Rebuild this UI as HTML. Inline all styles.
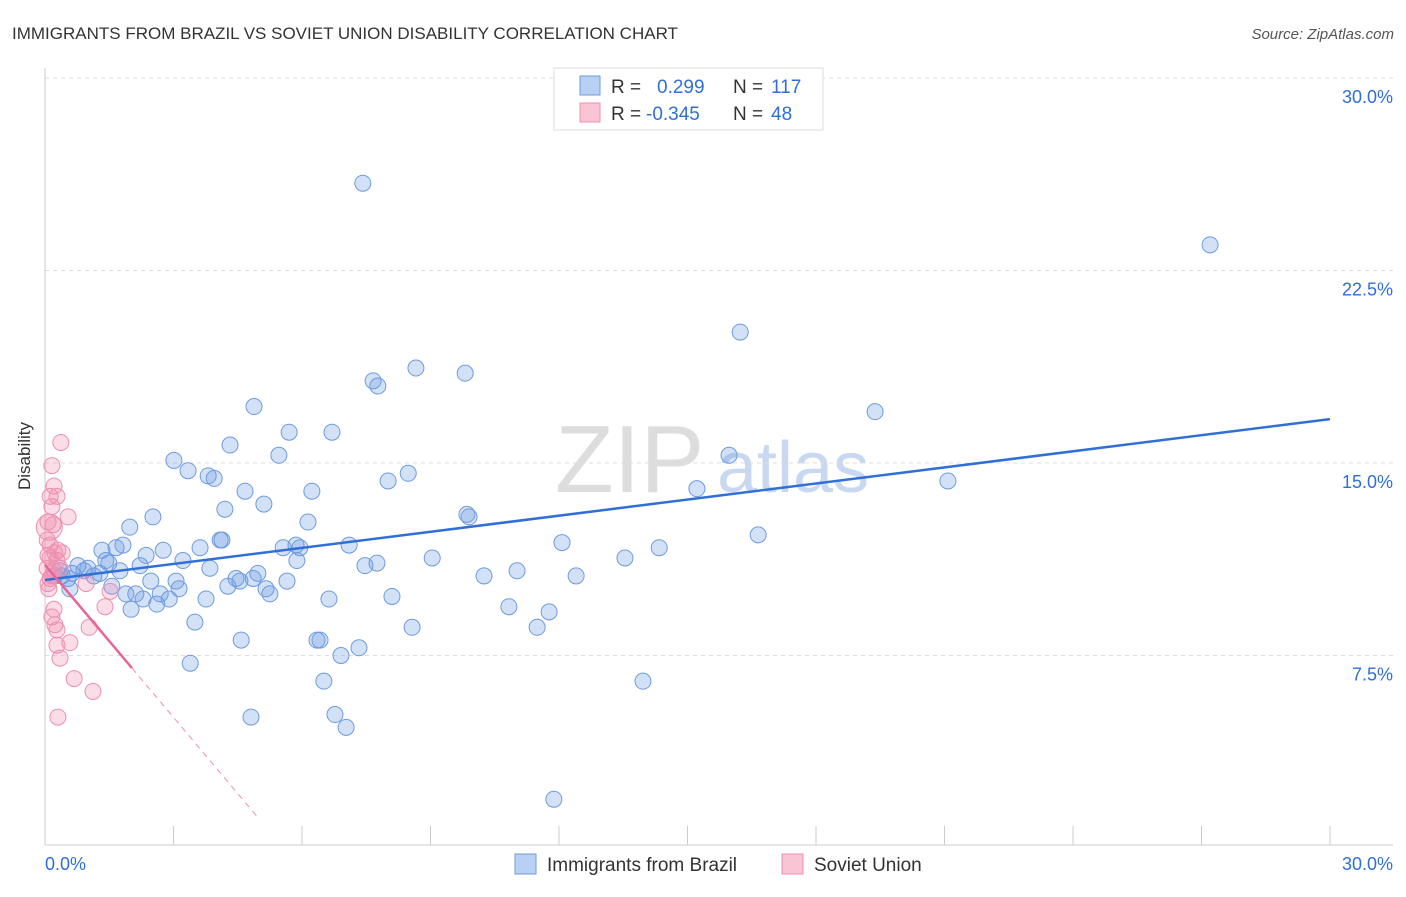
<!DOCTYPE html>
<html><head><meta charset="utf-8"><style>
body{margin:0;background:#fff;font-family:"Liberation Sans",sans-serif;}
svg text{font-family:"Liberation Sans",sans-serif;}
</style></head><body>
<svg id="chart" width="1406" height="892">
<text x="12" y="39" font-size="17" fill="#333">IMMIGRANTS FROM BRAZIL VS SOVIET UNION DISABILITY CORRELATION CHART</text>
<text x="1394" y="39" font-size="15" fill="#555" text-anchor="end" font-style="italic">Source: ZipAtlas.com</text>
<text x="30" y="456" font-size="17" fill="#333" text-anchor="middle" transform="rotate(-90 30 456)">Disability</text>
<text x="555" y="492" font-size="96" fill="#ddd" font-family="Liberation Serif">ZIP</text>
<text x="717" y="492" font-size="72" fill="#c8d8f0">atlas</text>
<g id="grid"></g><g id="axes"></g><g id="pts"></g><g id="lines"></g>
<g>
<rect x="554" y="68" width="269" height="62" fill="#fff" stroke="#ddd"/>
<rect x="580" y="76" width="20" height="19" fill="#b8d0f4" stroke="#6e9be0"/>
<rect x="580" y="103" width="20" height="19" fill="#f9c4d4" stroke="#ef8fb0"/>
<text x="611" y="93" font-size="19" fill="#333">R = </text><text x="657" y="93" font-size="19" fill="#2f6fd6">0.299</text>
<text x="733" y="93" font-size="19" fill="#333">N = </text><text x="771" y="93" font-size="19" fill="#2f6fd6">117</text>
<text x="611" y="120" font-size="19" fill="#333">R = </text><text x="646" y="120" font-size="19" fill="#2f6fd6">-0.345</text>
<text x="733" y="120" font-size="19" fill="#333">N = </text><text x="771" y="120" font-size="19" fill="#2f6fd6">48</text>
</g>
<g>
<rect x="515" y="854" width="21" height="20" fill="#b8d0f4" stroke="#6e9be0"/>
<text x="547" y="871" font-size="19" fill="#333">Immigrants from Brazil</text>
<rect x="782" y="854" width="21" height="20" fill="#f9c4d4" stroke="#ef8fb0"/>
<text x="814" y="871" font-size="19" fill="#333">Soviet Union</text>
</g>
</svg>
<script>
const yTicks=[7.5,15,22.5,30];
const xTickCount=10;
const blueX=[7.42,27.2,16.23,8.66,9.81,7.66,7.77,4.88,19.38,5.70,6.70,4.32,5.46,3.01,15.97,3.34,3.81,3.95,8.48,8.01,21.08,6.23,15.22,4.67,5.11,4.20,9.85,9.90,6.14,2.52,1.98,16.65,12.07,4.09,4.13,1.82,3.62,1.33,2.76,1.66,7.10,5.56,5.86,5.95,14.34,9.04,13.54,2.36,3.22,1.42,5.88,1.49,7.47,7.75,2.22,0.77,1.00,0.91,1.28,0.40,0.54,1.75,4.97,11.02,4.46,3.06,2.47,3.85,10.25,12.40,5.65,4.55,4.86,4.27,1.56,0.58,3.13,5.16,5.25,8.10,2.12,2.69,2.90,2.29,3.76,6.63,1.89,2.61,2.01,10.83,11.77,3.50,8.57,11.49,6.35,6.42,4.58,7.33,6.91,3.39,13.96,6.51,4.81,6.77,7.03,11.88,0.63,0.23,1.14,0.35];
const blueY=[25.9,23.5,20.1,18.7,18.5,18.2,18.0,17.2,17.0,16.2,16.2,15.7,15.3,15.1,15.3,14.7,14.5,14.4,14.6,14.3,14.3,13.9,14.0,13.9,13.4,13.2,13.0,12.9,12.7,12.9,12.5,12.2,11.9,12.0,12.0,11.8,11.7,11.6,11.6,11.7,11.8,11.7,11.8,11.7,11.7,11.3,11.3,11.4,11.2,11.2,11.2,11.1,11.0,11.1,11.0,11.0,10.9,10.8,10.7,10.6,10.5,10.8,10.7,10.8,10.5,10.4,10.4,10.9,10.6,10.6,10.4,10.4,10.5,10.2,10.2,10.1,10.1,10.1,9.9,9.8,9.9,9.9,9.7,9.7,9.7,9.7,9.9,9.5,9.3,9.4,9.2,8.8,8.6,8.6,8.1,8.1,8.1,7.8,7.5,7.2,6.5,6.5,5.1,5.2,4.7,1.9,10.7,10.6,10.6,10.8];
const pinkX=[0.37,0.16,0.21,0.28,0.12,0.16,0.54,0.07,0.19,0.05,0.12,0.30,0.23,0.40,0.07,0.12,0.28,0.05,0.35,0.21,0.16,0.12,0.07,0.96,1.52,0.09,1.40,0.21,0.16,0.23,0.28,1.03,0.58,0.28,0.35,0.68,1.12,0.30];
const pinkY=[15.8,14.9,14.1,13.7,13.7,13.3,12.9,12.7,12.6,12.0,11.8,11.6,11.5,11.5,11.4,11.3,11.2,10.9,10.9,10.8,10.6,10.5,10.3,10.3,10.0,10.1,9.4,9.3,9.0,8.7,8.5,8.6,8.0,7.9,7.4,6.6,6.1,5.1];
const blueTrend=[10.44,16.71];
const pinkTrend=[11.03,-1.98];
const X=v=>45+v/30*1285, Y=v=>848-v/7.5*192.5;
const NS='http://www.w3.org/2000/svg';
function mk(t,a,p){const e=document.createElementNS(NS,t);for(const k in a)e.setAttribute(k,a[k]);document.getElementById(p).appendChild(e);return e;}
yTicks.forEach(t=>{
 const g=mk('line',{x1:45,x2:1393,y1:Y(t),y2:Y(t),stroke:'#ddd','stroke-dasharray':'4,4'},'grid');
 
 
 const l=mk('text',{x:1393,y:Y(t)+25,'font-size':18,fill:'#2f6fd6','text-anchor':'end'},'axes');
 l.textContent=t.toFixed(1)+'%';
 
 
});
const ax=mk('line',{x1:45,x2:1393,y1:845,y2:845,stroke:'#ccc'},'axes');


const ay=mk('line',{x1:45,x2:45,y1:68,y2:845,stroke:'#ccc'},'axes');


for(let i=0;i<=xTickCount;i++){
 const t=mk('line',{x1:X(i*3),x2:X(i*3),y1:826,y2:845,stroke:'#ccc'},'axes');
 
 
}
[[0,'start',45],[30,'end',1393]].forEach(([v,a,x])=>{
 const l=mk('text',{x:x,y:870,'font-size':18,fill:'#2f6fd6','text-anchor':a},'axes');
 l.textContent=v.toFixed(1)+'%';
 
 
});
blueX.forEach((v,i)=>{
 const c=mk('circle',{cx:X(v),cy:Y(blueY[i]),r:8,fill:'rgba(110,155,224,0.3)',stroke:'#6e9be0','stroke-width':1},'pts');
 
 
});
pinkX.forEach((v,i)=>{
 const c=mk('circle',{cx:X(v),cy:Y(pinkY[i]),r:8,fill:'rgba(239,143,176,0.3)',stroke:'#ef8fb0','stroke-width':1},'pts');
 
 
});
const bc=mk('circle',{cx:X(0.1),cy:Y(12.5),r:13,fill:'rgba(239,143,176,0.3)',stroke:'#ef8fb0'},'pts');


const bl=mk('line',{x1:X(0),y1:Y(blueTrend[0]),x2:X(30),y2:Y(blueTrend[1]),stroke:'#2f6fd6','stroke-width':2.5},'lines');


const pl=mk('line',{x1:X(0),y1:Y(pinkTrend[0]),x2:X(2.03),y2:Y(pinkTrend[0]+pinkTrend[1]*2.03),stroke:'#e8659a','stroke-width':2.5},'lines');


const pd=mk('line',{x1:X(2.03),y1:Y(pinkTrend[0]+pinkTrend[1]*2.03),x2:X(5.0),y2:Y(pinkTrend[0]+pinkTrend[1]*5.0),stroke:'#ef8fb0','stroke-width':1,'stroke-dasharray':'6,5'},'lines');


</script>
</body></html>
